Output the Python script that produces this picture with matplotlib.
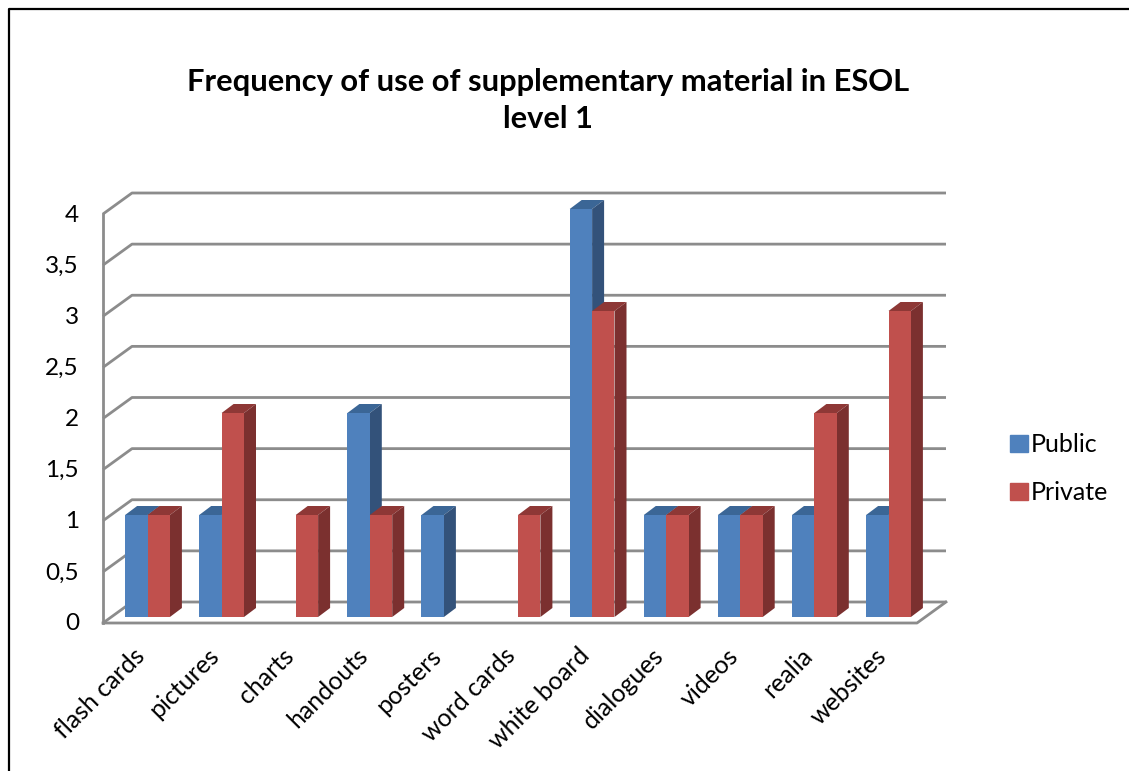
import matplotlib
matplotlib.use("Agg")
import matplotlib.pyplot as plt
from matplotlib.patches import Polygon, Patch
from matplotlib.lines import Line2D

categories = ["flash cards", "pictures", "charts", "handouts", "posters", "word cards",
              "white board", "dialogues", "videos", "realia", "websites"]
public = [1, 1, 0, 2, 1, 0, 4, 1, 1, 1, 1]
private = [1, 2, 1, 1, 0, 1, 3, 1, 1, 2, 3]
y_ticks = [0, 0.5, 1, 1.5, 2, 2.5, 3, 3.5, 4]
y_labels = ["0", "0,5", "1", "1,5", "2", "2,5", "3", "3,5", "4"]

W, H = 1129, 771
UX, UY = 74.1, 102.0   # pixels per category / per unit
X0, Y0 = 147.5, 617.0  # pixel position of category 0, value 0

plt.rcParams['font.family'] = ['Lato', 'DejaVu Sans']

fig = plt.figure(figsize=(W / 100, H / 100), dpi=100)
ax = fig.add_axes([0, 0, 1, 1])
ax.set_xlim(-X0 / UX, (W - X0) / UX)
ax.set_ylim((Y0 - H) / UY, Y0 / UY)
ax.axis("off")

bar_w = 22.4 / UX
dx, dy = 12 / UX, 9 / UY            # bar depth
wall_dx, wall_dy = 29 / UX, 21 / UY # floor depth
floor_y = -6 / UY
left_x, right_x = (103 - X0) / UX, (917 - X0) / UX
grid_col = "#8c8c8c"

# back wall gridlines, with the short diagonal on the side wall
for v in y_ticks:
    y = floor_y + v * 102.25 / UY
    ax.plot([left_x, left_x + wall_dx, right_x + wall_dx], [y, y + wall_dy, y + wall_dy],
            color=grid_col, lw=2, solid_capstyle="butt", zorder=1)
    ax.text((79 - X0) / UX, y - 1 / UY, y_labels[y_ticks.index(v)], ha="right", va="center",
            fontsize=17.5, color="black")

# floor and vertical axis
top_y = floor_y + 4 * 102.25 / UY
ax.plot([left_x, left_x], [floor_y, top_y], color=grid_col, lw=2, zorder=1)
ax.plot([left_x, right_x, right_x + wall_dx], [floor_y, floor_y, floor_y + wall_dy],
        color=grid_col, lw=2, zorder=1)


def draw_bar(x, v, front, side, top, z):
    if v == 0:
        return
    ax.bar(x, v, width=bar_w, align="edge", color=front, zorder=z + 0.2)
    ax.add_patch(Polygon([(x, v), (x + bar_w, v), (x + bar_w + dx, v + dy), (x + dx, v + dy)],
                         color=top, lw=0, zorder=z))
    ax.add_patch(Polygon([(x + bar_w, 0), (x + bar_w + dx, dy), (x + bar_w + dx, v + dy), (x + bar_w, v)],
                         color=side, lw=0, zorder=z))


for i in range(len(categories)):
    draw_bar(i - bar_w, public[i], "#4f81bd", "#33527a", "#3b6696", 2 + i)
    draw_bar(i, private[i], "#c0504d", "#7b302f", "#8e3836", 2.5 + i)
    ax.text(i - 0.19, -27 / UY, categories[i], rotation=45, rotation_mode="anchor",
            ha="right", va="top", fontsize=18, color="black")

ax.text((548 - X0) / UX, (Y0 - 82) / UY, "Frequency of use of supplementary material in ESOL",
        ha="center", va="center", fontsize=22.2, fontweight="bold", color="black")
ax.text((548 - X0) / UX, (Y0 - 119) / UY, "level 1",
        ha="center", va="center", fontsize=22.2, fontweight="bold", color="black")

handles = [Patch(color="#4f81bd", label="Public"), Patch(color="#c0504d", label="Private")]
ax.legend(handles=handles, loc="center left", bbox_to_anchor=(1003 / W, 1 - 469 / H), frameon=False,
          fontsize=18, handlelength=0.68, handleheight=0.68, handletextpad=0.14, labelspacing=1.0,
          borderpad=0, borderaxespad=0.3)

# page frame, left and top edges
fig.add_artist(Line2D([8.5 / W, 8.5 / W, 1], [0, 1 - 9 / H, 1 - 9 / H], color="black", lw=1.6))

fig.savefig("out.png", dpi=100)
